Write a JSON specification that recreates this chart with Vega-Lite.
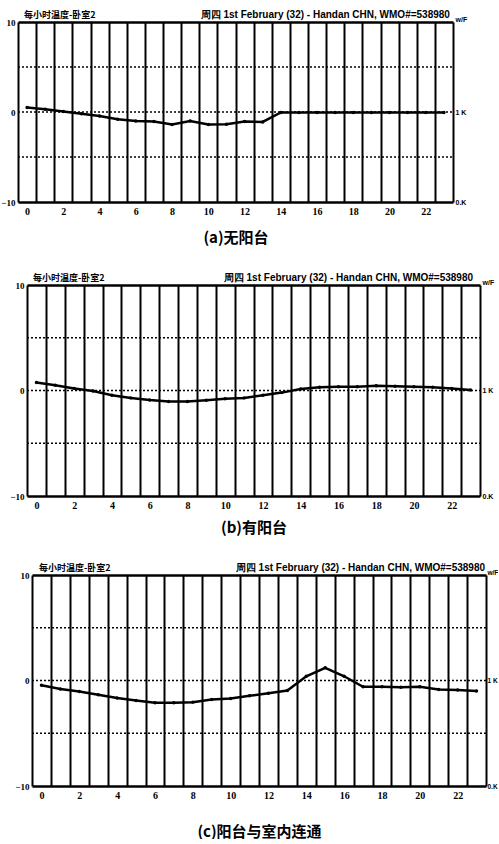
{
  "$schema": "https://vega.github.io/schema/vega-lite/v6.json",
  "background": "white",
  "padding": {"left": 0, "top": 10, "right": 0, "bottom": 0},
  "spacing": 28,
  "config": {
    "view": {"stroke": null},
    "axis": {"labelColor": "black", "titleColor": "black", "labelFont": "Liberation Serif", "labelFontWeight": "bold"}
  },
  "datasets": {
    "temps": [
      {"panel": "a", "hour": 0, "temp": 0.5}, {"panel": "a", "hour": 1, "temp": 0.3}, {"panel": "a", "hour": 2, "temp": 0.05}, {"panel": "a", "hour": 3, "temp": -0.2},
      {"panel": "a", "hour": 4, "temp": -0.45}, {"panel": "a", "hour": 5, "temp": -0.8}, {"panel": "a", "hour": 6, "temp": -1.0}, {"panel": "a", "hour": 7, "temp": -1.05},
      {"panel": "a", "hour": 8, "temp": -1.4}, {"panel": "a", "hour": 9, "temp": -1.0}, {"panel": "a", "hour": 10, "temp": -1.4}, {"panel": "a", "hour": 11, "temp": -1.35},
      {"panel": "a", "hour": 12, "temp": -1.05}, {"panel": "a", "hour": 13, "temp": -1.1}, {"panel": "a", "hour": 14, "temp": -0.05}, {"panel": "a", "hour": 15, "temp": -0.05},
      {"panel": "a", "hour": 16, "temp": -0.05}, {"panel": "a", "hour": 17, "temp": -0.05}, {"panel": "a", "hour": 18, "temp": -0.05}, {"panel": "a", "hour": 19, "temp": -0.05},
      {"panel": "a", "hour": 20, "temp": -0.05}, {"panel": "a", "hour": 21, "temp": -0.05}, {"panel": "a", "hour": 22, "temp": -0.05}, {"panel": "a", "hour": 23, "temp": -0.05},
      {"panel": "b", "hour": 0, "temp": 0.75}, {"panel": "b", "hour": 1, "temp": 0.5}, {"panel": "b", "hour": 2, "temp": 0.2}, {"panel": "b", "hour": 3, "temp": -0.05},
      {"panel": "b", "hour": 4, "temp": -0.45}, {"panel": "b", "hour": 5, "temp": -0.7}, {"panel": "b", "hour": 6, "temp": -0.9}, {"panel": "b", "hour": 7, "temp": -1.05},
      {"panel": "b", "hour": 8, "temp": -1.05}, {"panel": "b", "hour": 9, "temp": -0.92}, {"panel": "b", "hour": 10, "temp": -0.78}, {"panel": "b", "hour": 11, "temp": -0.7},
      {"panel": "b", "hour": 12, "temp": -0.45}, {"panel": "b", "hour": 13, "temp": -0.2}, {"panel": "b", "hour": 14, "temp": 0.15}, {"panel": "b", "hour": 15, "temp": 0.3},
      {"panel": "b", "hour": 16, "temp": 0.35}, {"panel": "b", "hour": 17, "temp": 0.35}, {"panel": "b", "hour": 18, "temp": 0.45}, {"panel": "b", "hour": 19, "temp": 0.4},
      {"panel": "b", "hour": 20, "temp": 0.35}, {"panel": "b", "hour": 21, "temp": 0.3}, {"panel": "b", "hour": 22, "temp": 0.2}, {"panel": "b", "hour": 23, "temp": 0.05},
      {"panel": "c", "hour": 0, "temp": -0.45}, {"panel": "c", "hour": 1, "temp": -0.8}, {"panel": "c", "hour": 2, "temp": -1.05}, {"panel": "c", "hour": 3, "temp": -1.35},
      {"panel": "c", "hour": 4, "temp": -1.65}, {"panel": "c", "hour": 5, "temp": -1.9}, {"panel": "c", "hour": 6, "temp": -2.1}, {"panel": "c", "hour": 7, "temp": -2.1},
      {"panel": "c", "hour": 8, "temp": -2.05}, {"panel": "c", "hour": 9, "temp": -1.8}, {"panel": "c", "hour": 10, "temp": -1.7}, {"panel": "c", "hour": 11, "temp": -1.45},
      {"panel": "c", "hour": 12, "temp": -1.2}, {"panel": "c", "hour": 13, "temp": -0.95}, {"panel": "c", "hour": 14, "temp": 0.4}, {"panel": "c", "hour": 15, "temp": 1.2},
      {"panel": "c", "hour": 16, "temp": 0.4}, {"panel": "c", "hour": 17, "temp": -0.6}, {"panel": "c", "hour": 18, "temp": -0.6}, {"panel": "c", "hour": 19, "temp": -0.65},
      {"panel": "c", "hour": 20, "temp": -0.6}, {"panel": "c", "hour": 21, "temp": -0.85}, {"panel": "c", "hour": 22, "temp": -0.9}, {"panel": "c", "hour": 23, "temp": -1.0}
    ],
    "hlines": [{"y": -5}, {"y": 0}, {"y": 5}],
    "titles": [
      {"panel": "a", "side": "left", "x": -0.17, "label": "每小时温度-卧室2"},
      {"panel": "a", "side": "right", "x": 23.33, "label": "周四 1st February (32) - Handan CHN, WMO#=538980"},
      {"panel": "b", "side": "left", "x": -0.18, "label": "每小时温度-卧室2"},
      {"panel": "b", "side": "right", "x": 23.13, "label": "周四 1st February (32) - Handan CHN, WMO#=538980"},
      {"panel": "c", "side": "left", "x": -0.13, "label": "每小时温度-卧室2"},
      {"panel": "c", "side": "right", "x": 23.45, "label": "周四 1st February (32) - Handan CHN, WMO#=538980"}
    ]
  },
  "vconcat": [
    {
      "width": 487, "height": 180,
      "layer": [
        {
          "data": {"name": "hlines"},
          "mark": {"type": "rule", "color": "black", "strokeWidth": 1.5, "strokeDash": [2, 2]},
          "encoding": {
            "x": {"datum": -0.5, "type": "quantitative", "scale": {"domain": [-0.5, 23.5], "range": [18, 453], "nice": false, "zero": false}, "axis": null},
            "x2": {"datum": 23.5},
            "y": {"field": "y", "type": "quantitative", "scale": {"domain": [-10, 10], "nice": false, "zero": false}, "axis": null}
          }
        },
        {
          "data": {"name": "temps"}, "transform": [{"filter": "datum.panel == 'a'"}],
          "mark": {"type": "line", "color": "black", "strokeWidth": 2.5},
          "encoding": {
            "x": {"field": "hour", "type": "quantitative", "scale": {"domain": [-0.5, 23.5], "range": [18, 453], "nice": false, "zero": false},
              "axis": {"values": [0, 2, 4, 6, 8, 10, 12, 14, 16, 18, 20, 22], "grid": false, "domain": true, "domainColor": "black", "domainWidth": 2.5, "ticks": false, "labelFontSize": 10, "labelPadding": 4,
                "title": "(a)无阳台", "titleFont": "Noto Sans CJK SC", "titleFontSize": 15, "titleFontWeight": "bold", "titlePadding": 14}},
            "y": {"field": "temp", "type": "quantitative", "scale": {"domain": [-10, 10], "nice": false, "zero": false},
              "axis": {"values": [-10, 0, 10], "offset": -18, "grid": false, "domain": false, "ticks": false, "title": null, "labelFontSize": 9, "labelPadding": 3}}
          }
        },
        {
          "data": {"name": "temps"}, "transform": [{"filter": "datum.panel == 'a'"}],
          "mark": {"type": "point", "filled": true, "color": "black", "size": 12, "opacity": 1},
          "encoding": {
            "x": {"field": "hour", "type": "quantitative", "scale": {"domain": [-0.5, 23.5], "range": [18, 453], "nice": false, "zero": false},
              "axis": {"orient": "bottom", "values": [-0.5, 0.5, 1.5, 2.5, 3.5, 4.5, 5.5, 6.5, 7.5, 8.5, 9.5, 10.5, 11.5, 12.5, 13.5, 14.5, 15.5, 16.5, 17.5, 18.5, 19.5, 20.5, 21.5, 22.5, 23.5],
                "grid": true, "gridColor": "black", "gridWidth": 2, "gridOpacity": 1, "labels": false, "ticks": false, "domain": false, "title": null}},
            "y": {"field": "temp", "type": "quantitative", "scale": {"domain": [-10, 10], "nice": false, "zero": false},
              "axis": {"orient": "right", "offset": -34, "values": [-10, 0, 10], "labelExpr": "datum.value == 10 ? 'w/F' : datum.value == 0 ? '1 K' : '0.K'",
                "labelBaseline": {"condition": {"test": "datum.value == 10", "value": "bottom"}, "value": "middle"},
                "grid": false, "domain": false, "ticks": false, "title": null, "labelFontSize": 7, "labelPadding": 2, "labelFont": "Liberation Sans"}}
          }
        },
        {
          "data": {"name": "titles"}, "transform": [{"filter": "datum.panel == 'a' && datum.side == 'left'"}],
          "mark": {"type": "text", "align": "left", "baseline": "bottom", "dy": -2, "font": "Noto Sans CJK SC", "fontWeight": "bold", "fontSize": 9, "color": "black"},
          "encoding": {
            "x": {"field": "x", "type": "quantitative", "scale": {"domain": [-0.5, 23.5], "range": [18, 453], "nice": false, "zero": false},
              "axis": {"orient": "top", "domain": true, "domainColor": "black", "domainWidth": 2.5, "labels": false, "ticks": false, "grid": false, "title": null}},
            "y": {"datum": 10, "type": "quantitative", "axis": null},
            "text": {"field": "label"}
          }
        },
        {
          "data": {"name": "titles"}, "transform": [{"filter": "datum.panel == 'a' && datum.side == 'right'"}],
          "mark": {"type": "text", "align": "right", "baseline": "bottom", "dy": -2, "font": "Liberation Sans", "fontWeight": "bold", "fontSize": 10, "color": "black"},
          "encoding": {"x": {"field": "x", "type": "quantitative", "axis": null}, "y": {"datum": 10, "type": "quantitative", "axis": null}, "text": {"field": "label"}}
        }
      ],
      "resolve": {"axis": {"x": "independent", "y": "independent"}}
    },
    {
      "width": 487, "height": 211,
      "layer": [
        {
          "data": {"name": "hlines"},
          "mark": {"type": "rule", "color": "black", "strokeWidth": 1.5, "strokeDash": [2, 2]},
          "encoding": {
            "x": {"datum": -0.5, "type": "quantitative", "scale": {"domain": [-0.5, 23.5], "range": [27, 480], "nice": false, "zero": false}, "axis": null},
            "x2": {"datum": 23.5},
            "y": {"field": "y", "type": "quantitative", "scale": {"domain": [-10, 10], "nice": false, "zero": false}, "axis": null}
          }
        },
        {
          "data": {"name": "temps"}, "transform": [{"filter": "datum.panel == 'b'"}],
          "mark": {"type": "line", "color": "black", "strokeWidth": 2.5},
          "encoding": {
            "x": {"field": "hour", "type": "quantitative", "scale": {"domain": [-0.5, 23.5], "range": [27, 480], "nice": false, "zero": false},
              "axis": {"values": [0, 2, 4, 6, 8, 10, 12, 14, 16, 18, 20, 22], "grid": false, "domain": true, "domainColor": "black", "domainWidth": 2.5, "ticks": false, "labelFontSize": 10, "labelPadding": 4,
                "title": "(b)有阳台", "titleFont": "Noto Sans CJK SC", "titleFontSize": 15, "titleFontWeight": "bold", "titlePadding": 10}},
            "y": {"field": "temp", "type": "quantitative", "scale": {"domain": [-10, 10], "nice": false, "zero": false},
              "axis": {"values": [-10, 0, 10], "offset": -27, "grid": false, "domain": false, "ticks": false, "title": null, "labelFontSize": 9, "labelPadding": 3}}
          }
        },
        {
          "data": {"name": "temps"}, "transform": [{"filter": "datum.panel == 'b'"}],
          "mark": {"type": "point", "filled": true, "color": "black", "size": 12, "opacity": 1},
          "encoding": {
            "x": {"field": "hour", "type": "quantitative", "scale": {"domain": [-0.5, 23.5], "range": [27, 480], "nice": false, "zero": false},
              "axis": {"orient": "bottom", "values": [-0.5, 0.5, 1.5, 2.5, 3.5, 4.5, 5.5, 6.5, 7.5, 8.5, 9.5, 10.5, 11.5, 12.5, 13.5, 14.5, 15.5, 16.5, 17.5, 18.5, 19.5, 20.5, 21.5, 22.5, 23.5],
                "grid": true, "gridColor": "black", "gridWidth": 2, "gridOpacity": 1, "labels": false, "ticks": false, "domain": false, "title": null}},
            "y": {"field": "temp", "type": "quantitative", "scale": {"domain": [-10, 10], "nice": false, "zero": false},
              "axis": {"orient": "right", "offset": -7, "values": [-10, 0, 10], "labelExpr": "datum.value == 10 ? 'w/F' : datum.value == 0 ? '1 K' : '0.K'",
                "labelBaseline": {"condition": {"test": "datum.value == 10", "value": "bottom"}, "value": "middle"},
                "grid": false, "domain": false, "ticks": false, "title": null, "labelFontSize": 7, "labelPadding": 2, "labelFont": "Liberation Sans"}}
          }
        },
        {
          "data": {"name": "titles"}, "transform": [{"filter": "datum.panel == 'b' && datum.side == 'left'"}],
          "mark": {"type": "text", "align": "left", "baseline": "bottom", "dy": -2, "font": "Noto Sans CJK SC", "fontWeight": "bold", "fontSize": 9, "color": "black"},
          "encoding": {
            "x": {"field": "x", "type": "quantitative", "scale": {"domain": [-0.5, 23.5], "range": [27, 480], "nice": false, "zero": false},
              "axis": {"orient": "top", "domain": true, "domainColor": "black", "domainWidth": 2.5, "labels": false, "ticks": false, "grid": false, "title": null}},
            "y": {"datum": 10, "type": "quantitative", "axis": null},
            "text": {"field": "label"}
          }
        },
        {
          "data": {"name": "titles"}, "transform": [{"filter": "datum.panel == 'b' && datum.side == 'right'"}],
          "mark": {"type": "text", "align": "right", "baseline": "bottom", "dy": -2, "font": "Liberation Sans", "fontWeight": "bold", "fontSize": 10, "color": "black"},
          "encoding": {"x": {"field": "x", "type": "quantitative", "axis": null}, "y": {"datum": 10, "type": "quantitative", "axis": null}, "text": {"field": "label"}}
        }
      ],
      "resolve": {"axis": {"x": "independent", "y": "independent"}}
    },
    {
      "width": 487, "height": 211,
      "layer": [
        {
          "data": {"name": "hlines"},
          "mark": {"type": "rule", "color": "black", "strokeWidth": 1.5, "strokeDash": [2, 2]},
          "encoding": {
            "x": {"datum": -0.5, "type": "quantitative", "scale": {"domain": [-0.5, 23.5], "range": [32, 486], "nice": false, "zero": false}, "axis": null},
            "x2": {"datum": 23.5},
            "y": {"field": "y", "type": "quantitative", "scale": {"domain": [-10, 10], "nice": false, "zero": false}, "axis": null}
          }
        },
        {
          "data": {"name": "temps"}, "transform": [{"filter": "datum.panel == 'c'"}],
          "mark": {"type": "line", "color": "black", "strokeWidth": 2.5},
          "encoding": {
            "x": {"field": "hour", "type": "quantitative", "scale": {"domain": [-0.5, 23.5], "range": [32, 486], "nice": false, "zero": false},
              "axis": {"values": [0, 2, 4, 6, 8, 10, 12, 14, 16, 18, 20, 22], "grid": false, "domain": true, "domainColor": "black", "domainWidth": 2.5, "ticks": false, "labelFontSize": 10, "labelPadding": 4,
                "title": "(c)阳台与室内连通", "titleFont": "Noto Sans CJK SC", "titleFontSize": 15, "titleFontWeight": "bold", "titlePadding": 24}},
            "y": {"field": "temp", "type": "quantitative", "scale": {"domain": [-10, 10], "nice": false, "zero": false},
              "axis": {"values": [-10, 0, 10], "offset": -32, "grid": false, "domain": false, "ticks": false, "title": null, "labelFontSize": 9, "labelPadding": 3}}
          }
        },
        {
          "data": {"name": "temps"}, "transform": [{"filter": "datum.panel == 'c'"}],
          "mark": {"type": "point", "filled": true, "color": "black", "size": 12, "opacity": 1},
          "encoding": {
            "x": {"field": "hour", "type": "quantitative", "scale": {"domain": [-0.5, 23.5], "range": [32, 486], "nice": false, "zero": false},
              "axis": {"orient": "bottom", "values": [-0.5, 0.5, 1.5, 2.5, 3.5, 4.5, 5.5, 6.5, 7.5, 8.5, 9.5, 10.5, 11.5, 12.5, 13.5, 14.5, 15.5, 16.5, 17.5, 18.5, 19.5, 20.5, 21.5, 22.5, 23.5],
                "grid": true, "gridColor": "black", "gridWidth": 2, "gridOpacity": 1, "labels": false, "ticks": false, "domain": false, "title": null}},
            "y": {"field": "temp", "type": "quantitative", "scale": {"domain": [-10, 10], "nice": false, "zero": false},
              "axis": {"orient": "right", "offset": -1, "values": [-10, 0, 10], "labelExpr": "datum.value == 10 ? 'w/F' : datum.value == 0 ? '1 K' : '0.K'",
                "labelBaseline": {"condition": {"test": "datum.value == 10", "value": "bottom"}, "value": "middle"},
                "grid": false, "domain": false, "ticks": false, "title": null, "labelFontSize": 6.5, "labelPadding": 1, "labelFont": "Liberation Sans"}}
          }
        },
        {
          "data": {"name": "titles"}, "transform": [{"filter": "datum.panel == 'c' && datum.side == 'left'"}],
          "mark": {"type": "text", "align": "left", "baseline": "bottom", "dy": -2, "font": "Noto Sans CJK SC", "fontWeight": "bold", "fontSize": 9, "color": "black"},
          "encoding": {
            "x": {"field": "x", "type": "quantitative", "scale": {"domain": [-0.5, 23.5], "range": [32, 486], "nice": false, "zero": false},
              "axis": {"orient": "top", "domain": true, "domainColor": "black", "domainWidth": 2.5, "labels": false, "ticks": false, "grid": false, "title": null}},
            "y": {"datum": 10, "type": "quantitative", "axis": null},
            "text": {"field": "label"}
          }
        },
        {
          "data": {"name": "titles"}, "transform": [{"filter": "datum.panel == 'c' && datum.side == 'right'"}],
          "mark": {"type": "text", "align": "right", "baseline": "bottom", "dy": -2, "font": "Liberation Sans", "fontWeight": "bold", "fontSize": 10, "color": "black"},
          "encoding": {"x": {"field": "x", "type": "quantitative", "axis": null}, "y": {"datum": 10, "type": "quantitative", "axis": null}, "text": {"field": "label"}}
        }
      ],
      "resolve": {"axis": {"x": "independent", "y": "independent"}}
    }
  ]
}
